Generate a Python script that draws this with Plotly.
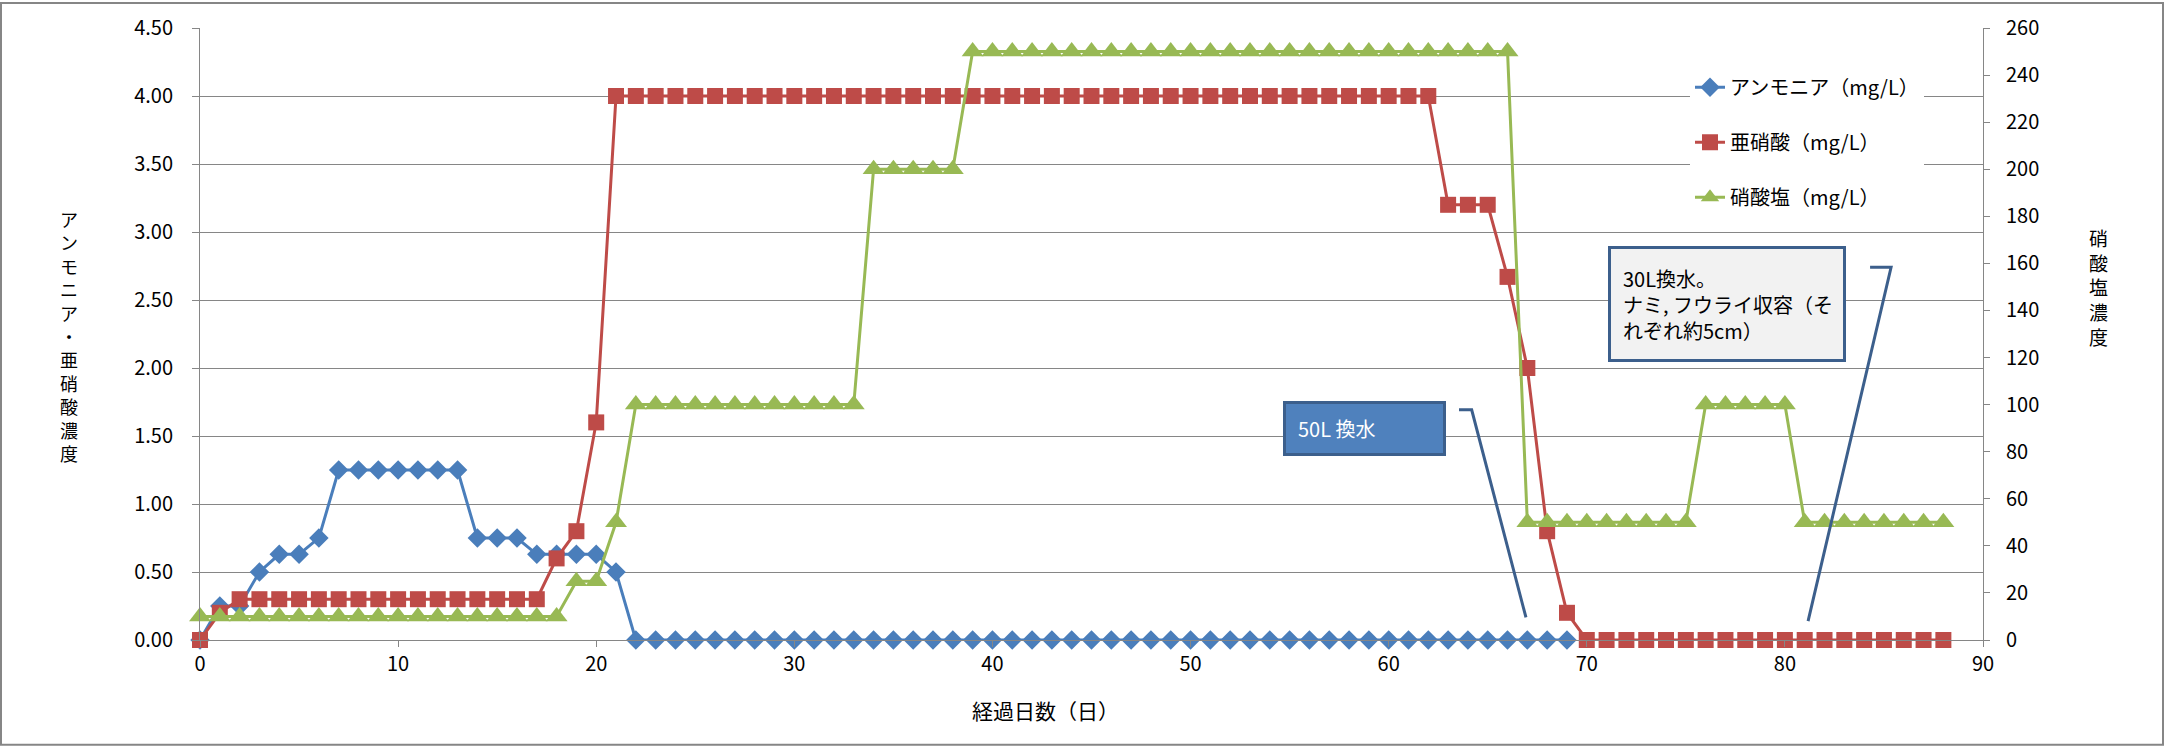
import plotly.graph_objects as go

# ---- data ----
days_nh3 = list(range(0, 70))
ammonia = [0, 0.25, 0.25, 0.5, 0.63, 0.63, 0.75,
           1.25, 1.25, 1.25, 1.25, 1.25, 1.25, 1.25,
           0.75, 0.75, 0.75, 0.63, 0.63, 0.63, 0.63, 0.5] + [0] * 48

days_no2 = list(range(0, 89))
nitrite = ([0, 0.2] + [0.3] * 16 + [0.6, 0.8, 1.6] + [4.0] * 42
           + [3.2, 3.2, 3.2, 2.67, 2.0, 0.8, 0.2] + [0] * 19)

days_no3 = list(range(0, 89))
nitrate = ([10] * 19 + [25, 25, 50] + [100] * 12 + [200] * 5 + [250] * 28
           + [50] * 9 + [100] * 5 + [50] * 8)

names = ["アンモニア（mg/L）", "亜硝酸（mg/L）", "硝酸塩（mg/L）"]
x_ticks = [0, 10, 20, 30, 40, 50, 60, 70, 80, 90]
left_ticks = [0, 0.5, 1.0, 1.5, 2.0, 2.5, 3.0, 3.5, 4.0, 4.5]
right_ticks = list(range(0, 261, 20))

FONT = "Noto Sans CJK JP, Noto Sans, sans-serif"
GRID = "#868686"
BLUE = "#4A7EBB"
RED = "#BE4B48"
GREEN = "#98B954"
CALLOUT = "#3C5F8C"

fig = go.Figure()
fig.add_trace(go.Scatter(x=days_nh3, y=ammonia, name=names[0], mode="lines+markers",
                         line=dict(color=BLUE, width=3),
                         marker=dict(symbol="diamond", size=15, color=BLUE, line=dict(width=0)),
                         cliponaxis=False, legendgroup="a"))
fig.add_trace(go.Scatter(x=days_no2, y=nitrite, name=names[1], mode="lines+markers",
                         line=dict(color=RED, width=3),
                         marker=dict(symbol="square", size=16, color=RED, line=dict(width=0)),
                         cliponaxis=False, legendgroup="b"))
fig.add_trace(go.Scatter(x=days_no3, y=nitrate, name=names[2], mode="lines+markers",
                         line=dict(color=GREEN, width=3),
                         marker=dict(symbol="triangle-up", size=19, color=GREEN, line=dict(width=0)),
                         cliponaxis=False, yaxis="y2", legendgroup="c"))

W, H = 2164, 746
ML, MR, MT, MB = 200, 181, 26, 106
PW, PH = W - ML - MR, H - MT - MB

fig.update_layout(
    width=W, height=H,
    margin=dict(l=ML, r=MR, t=MT, b=MB),
    paper_bgcolor="white", plot_bgcolor="white",
    font=dict(family=FONT, size=20, color="black"),
    showlegend=True,
    legend=dict(x=(1690 - ML) / PW, y=(MT + PH - 66) / PH, xanchor="left", yanchor="top",
                bgcolor="white", font=dict(size=20), tracegroupgap=26,
                entrywidth=240, entrywidthmode="pixels"),
    xaxis=dict(range=[0, 90], tickvals=x_ticks, showgrid=False, zeroline=False,
               showline=True, linecolor=GRID, linewidth=1,
               ticks="outside", ticklen=6, tickcolor=GRID, tickfont=dict(size=20)),
    yaxis=dict(range=[0, 4.5], tickvals=left_ticks, tickformat=".2f", showgrid=True,
               gridcolor=GRID, gridwidth=1, zeroline=False, showline=True,
               linecolor=GRID, linewidth=1, ticks="outside", ticklen=7, tickcolor=GRID,
               tickfont=dict(size=20), ticklabelstandoff=15),
    yaxis2=dict(range=[0, 260], tickvals=right_ticks, overlaying="y", side="right",
                showgrid=False, zeroline=False, showline=True, linecolor=GRID, linewidth=1,
                ticks="outside", ticklen=6, tickcolor=GRID, tickfont=dict(size=20),
                ticklabelstandoff=12),
)

left_title = "アンモニア・亜硝酸濃度"
right_title = "硝酸塩濃度"
x_title = "経過日数（日）"

annotations = [
    dict(text="<br>".join(left_title), xref="paper", yref="paper",
         x=(69 - ML) / PW, y=(MT + PH - 335) / PH, showarrow=False,
         font=dict(size=18), xanchor="center", yanchor="middle"),
    dict(text="<br>".join(right_title), xref="paper", yref="paper",
         x=1 + (2098 - ML - PW) / PW, y=(MT + PH - 286) / PH, showarrow=False,
         font=dict(size=19), xanchor="center", yanchor="middle"),
    dict(text=x_title, xref="paper", yref="paper",
         x=(1045 - ML) / PW, y=-(710 - MT - PH) / PH, showarrow=False,
         font=dict(size=21), xanchor="center", yanchor="middle"),
    dict(text="30L換水。<br>ナミ, フウライ収容（そ<br>れぞれ約5cm）", xref="x", yref="y",
         x=71.05, y=2.90, xanchor="left", yanchor="top", showarrow=False, align="left",
         width=208, height=86, borderpad=12, borderwidth=3, bordercolor=CALLOUT,
         bgcolor="#F2F2F2", font=dict(size=20, color="black"), valign="middle"),
    dict(text="50L 換水", xref="x", yref="y",
         x=54.67, y=1.76, xanchor="left", yanchor="top", showarrow=False, align="left",
         width=133, height=25, borderpad=12, borderwidth=3, bordercolor=CALLOUT,
         bgcolor="#4F81BD", font=dict(size=20, color="white"), valign="middle"),
]
fig.update_layout(annotations=annotations)

shapes = [
    dict(type="path", xref="x", yref="y", path="M 84.3 2.741 L 85.36 2.741 L 81.17 0.139",
         line=dict(color=CALLOUT, width=3)),
    dict(type="path", xref="x", yref="y", path="M 63.55 1.693 L 64.19 1.693 L 66.93 0.166",
         line=dict(color=CALLOUT, width=3)),
    dict(type="rect", xref="paper", yref="paper",
         x0=-(ML - 1) / PW, x1=1 + (MR - 1) / PW, y0=-(MB - 1) / PH, y1=1 + (MT - 1) / PH,
         line=dict(color=GRID, width=2), fillcolor="rgba(0,0,0,0)", layer="below"),
]
fig.update_layout(shapes=shapes)

fig.write_html("out.html", config={"displayModeBar": False},
               post_script="document.body.style.margin='0';document.body.style.overflow='hidden';")
